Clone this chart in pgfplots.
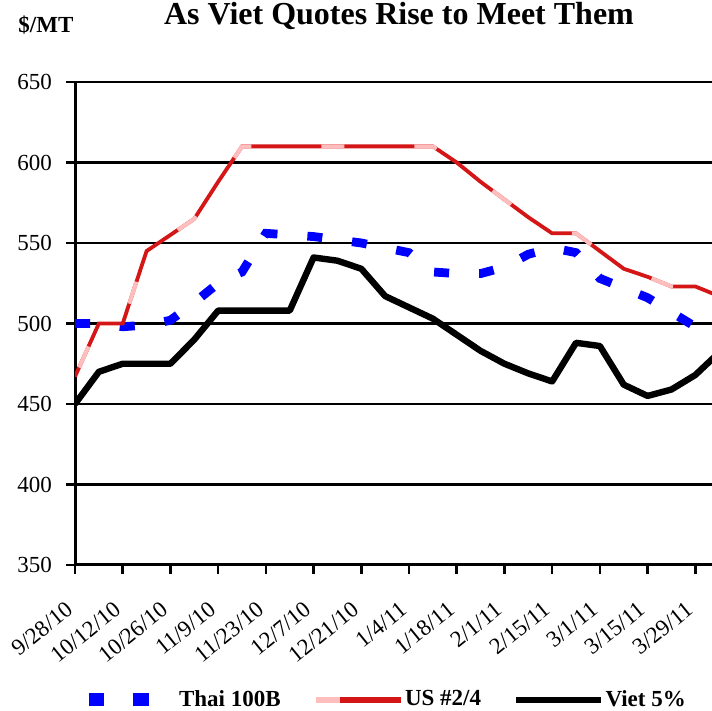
\documentclass[border=0pt]{standalone}
\usepackage{fontspec}
\setmainfont{Liberation Serif}
\usepackage{pgfplots}
\usepackage{pgfplotstable}
\pgfplotsset{compat=1.18}
\definecolor{usred}{RGB}{212,22,22}
\definecolor{uspink}{RGB}{255,190,190}
\definecolor{thaiblue}{RGB}{0,0,255}

\pgfplotstableread{
wk thai us viet
0 500 467 450
1 500 500 470
2 498 500 475
3 499 545 475
4 502 555 475
5 513 565 490
6 525 588 508
7 532 610 508
8 556 610 508
9 555 610 508
10 554 610 541
11 552 610 539
12 550 610 534
13 547 610 517
14 544 610 510
15 532 610 503
16 531 600 493
17 531 588 483
18 535 577 475
19 543 566 469
20 547 556 464
21 544 556 488
22 528 545 486
23 522 534 462
24 516 529 455
25 507 523 459
26 498 523 468
27 492 517 482
}\prices

\begin{document}
\begin{tikzpicture}
\begin{axis}[
  at={(37.5pt,73pt)}, anchor=south west,
  scale only axis, width=318.5pt, height=241.5pt,
  xmin=0, xmax=26.7, ymin=350, ymax=650,
  axis x line*=bottom, axis y line*=left,
  axis line style={line width=1.5pt, black},
  ytick={350,400,...,650},
  xtick={0,2,...,26},
  xticklabels={9/28/10,10/12/10,10/26/10,11/9/10,11/23/10,12/7/10,12/21/10,1/4/11,1/18/11,2/1/11,2/15/11,3/1/11,3/15/11,3/29/11},
  ymajorgrids, grid style={line width=1.3pt, black},
  tick align=outside, major tick length=4.5pt,
  tick style={line width=1.3pt, black},
  /pgf/number format/assume math mode=true,
  ticklabel style={font=\fontsize{11.5}{13}\selectfont},
  yticklabel style={xshift=-3.5pt},
  xticklabel style={yshift=-14pt, rotate=39, anchor=east},
  legend columns=3,
  legend style={at={(axis description cs:0.011,-0.279)}, anchor=west, draw=none, fill=none,
    inner sep=0pt, outer sep=0pt, nodes={inner sep=0.6pt},
    font=\fontsize{11.5}{13}\selectfont\bfseries,
    /tikz/every even column/.append style={column sep=15.5pt}},
]
\addplot[thaiblue, line width=4.4pt, line cap=butt, dash pattern=on 7.5pt off 15pt,
  legend image code/.code={
    \draw[thaiblue, solid, line cap=butt, line width=6.5pt] (0pt,0pt) -- (7.5pt,0pt);
    \draw[thaiblue, solid, line cap=butt, line width=6.5pt] (22pt,0pt) -- (30pt,0pt);
    \path (0pt,0pt) -- (42.5pt,0pt);
  }] table[x=wk, y=thai] {\prices};
\addlegendentry{Thai 100B}
\addplot[usred, line width=1.9pt,
  legend image code/.code={
    \draw[uspink, solid, line cap=butt, line width=3pt] (0pt,0pt) -- (12pt,0pt);
    \draw[usred, solid, line cap=butt, line width=3pt] (12pt,0pt) -- (42.5pt,0pt);
  }] table[x=wk, y=us] {\prices};
\addlegendentry{US \#2/4}
\addplot[uspink, line width=2pt, line cap=butt, dash pattern=on 11.5pt off 35pt, dash phase=41.5pt, forget plot]
  table[x=wk, y=us] {\prices};
\addplot[black, line width=3.2pt, line join=round,
  legend image code/.code={
    \draw[black, solid, line cap=butt, line width=3pt] (0pt,0pt) -- (42.5pt,0pt);
  }] table[x=wk, y=viet] {\prices};
\addlegendentry{Viet 5\%}
\end{axis}
\node[anchor=base, inner sep=0pt, font=\fontsize{16}{19}\selectfont\bfseries] at (199.5pt,343pt) {As Viet Quotes Rise to Meet Them};
\node[anchor=base west, inner sep=0pt, font=\fontsize{11.5}{13}\selectfont\bfseries] at (9pt,339pt) {\$/MT};
\pgfresetboundingbox
\useasboundingbox (0,0) rectangle (356pt,355.5pt);
\end{tikzpicture}
\end{document}
